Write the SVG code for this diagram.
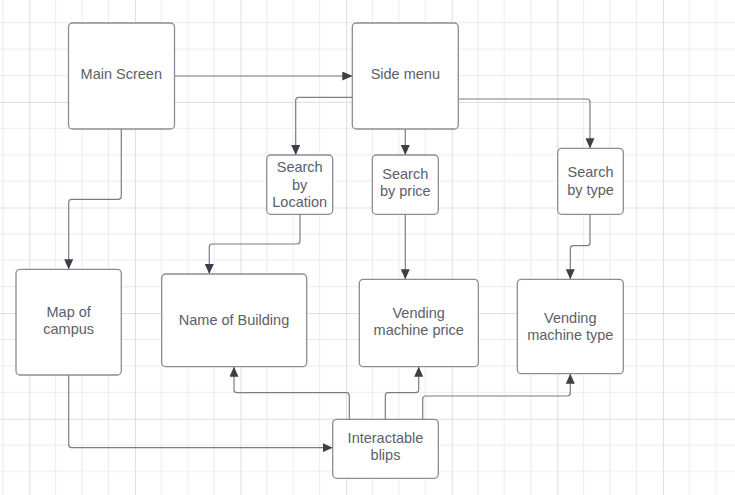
<svg xmlns="http://www.w3.org/2000/svg" width="735" height="495" viewBox="0 0 735 495">
<defs>
<pattern id="grid" patternUnits="userSpaceOnUse" x="29.3" y="-3.7" width="105.6" height="105.6">
<path d="M26.4,0V105.6M52.8,0V105.6M79.2,0V105.6M0,26.4H105.6M0,52.8H105.6M0,79.2H105.6" stroke="#ebebeb" stroke-width="1" fill="none"/>
<path d="M0.5,0V105.6M0,0.5H105.6" stroke="#dedede" stroke-width="1" fill="none"/>
</pattern>
<marker id="arr" markerUnits="userSpaceOnUse" markerWidth="10" markerHeight="9" refX="10" refY="4.5" orient="auto" viewBox="0 0 10 9">
<path d="M0,0 L10,4.5 L0,9 z" fill="#3b3f48"/>
</marker>
</defs>
<style>
.box{fill:#ffffff;stroke:#8a8d93;stroke-width:1.3}
.lbl{font-family:"Liberation Sans",Arial,sans-serif;font-size:14.5px;fill:#5c6069;text-anchor:middle}
.con{fill:none;stroke:#7a7d84;stroke-width:1.2;marker-end:url(#arr)}
</style>
<rect width="735" height="495" fill="#ffffff"/>
<rect width="735" height="495" fill="url(#grid)"/>
<g id="connectors">
<path class="con" d="M174.3,76 H352.3"/>
<path class="con" d="M352.3,97.3 H298.7 Q295.7,97.3 295.7,100.3 V155"/>
<path class="con" d="M405.3,128.7 V155"/>
<path class="con" d="M458.3,99 H587 Q590,99 590,102 V148.3"/>
<path class="con" d="M121.3,128.7 V196.3 Q121.3,199.3 118.3,199.3 H71.7 Q68.7,199.3 68.7,202.3 V269.3"/>
<path class="con" d="M300,214.3 V241 Q300,244 297,244 H212.3 Q209.3,244 209.3,247 V274"/>
<path class="con" d="M405.3,214.3 V279.3"/>
<path class="con" d="M590,214.3 V242.7 Q590,245.7 587,245.7 H573.3 Q570.3,245.7 570.3,248.7 V279.3"/>
<path class="con" d="M68.7,375 V444.7 Q68.7,447.7 71.7,447.7 H332.7"/>
<path class="con" d="M349.3,419.3 V395.7 Q349.3,392.7 346.3,392.7 H237 Q234,392.7 234,389.7 V366.7"/>
<path class="con" d="M385.3,419.3 V395.7 Q385.3,392.7 388.3,392.7 H415.7 Q418.7,392.7 418.7,389.7 V366.7"/>
<path class="con" d="M422.7,419.3 V399 Q422.7,396 425.7,396 H567.3 Q570.3,396 570.3,393 V373.7"/>
</g>
<g id="main-screen">
<rect class="box" x="68.5" y="23" width="106" height="106" rx="4"/>
<text class="lbl" x="121.3" y="78.5">Main Screen</text>
</g>
<g id="side-menu">
<rect class="box" x="352.3" y="23" width="106" height="106" rx="4"/>
<text class="lbl" x="405.3" y="78.5">Side menu</text>
</g>
<g id="search-location">
<rect class="box" x="266.7" y="155" width="66" height="59.3" rx="4"/>
<text class="lbl" x="299.7" y="171.9">Search</text>
<text class="lbl" x="299.7" y="189.5">by</text>
<text class="lbl" x="299.7" y="206.9">Location</text>
</g>
<g id="search-price">
<rect class="box" x="372.3" y="155" width="66" height="59.3" rx="4"/>
<text class="lbl" x="405.3" y="178.9">Search</text>
<text class="lbl" x="405.3" y="196.2">by price</text>
</g>
<g id="search-type">
<rect class="box" x="557.7" y="148.3" width="65.6" height="66" rx="4"/>
<text class="lbl" x="590.5" y="176.9">Search</text>
<text class="lbl" x="590.5" y="194.5">by type</text>
</g>
<g id="map-of-campus">
<rect class="box" x="16" y="269.3" width="105.3" height="105.7" rx="4"/>
<text class="lbl" x="68.7" y="316.5">Map of</text>
<text class="lbl" x="68.7" y="334.2">campus</text>
</g>
<g id="name-of-building">
<rect class="box" x="161.7" y="274" width="145" height="92.7" rx="4"/>
<text class="lbl" x="234" y="324.5">Name of Building</text>
</g>
<g id="vending-price">
<rect class="box" x="359.3" y="279.3" width="119" height="87.4" rx="4"/>
<text class="lbl" x="418.7" y="317.5">Vending</text>
<text class="lbl" x="418.7" y="335.2">machine price</text>
</g>
<g id="vending-type">
<rect class="box" x="517.3" y="279.3" width="106" height="94.4" rx="4"/>
<text class="lbl" x="570.3" y="322.5">Vending</text>
<text class="lbl" x="570.3" y="340.2">machine type</text>
</g>
<g id="interactable-blips">
<rect class="box" x="332.7" y="419.3" width="105.6" height="59" rx="4"/>
<text class="lbl" x="385.5" y="442.9">Interactable</text>
<text class="lbl" x="385.5" y="460.2">blips</text>
</g>
</svg>
